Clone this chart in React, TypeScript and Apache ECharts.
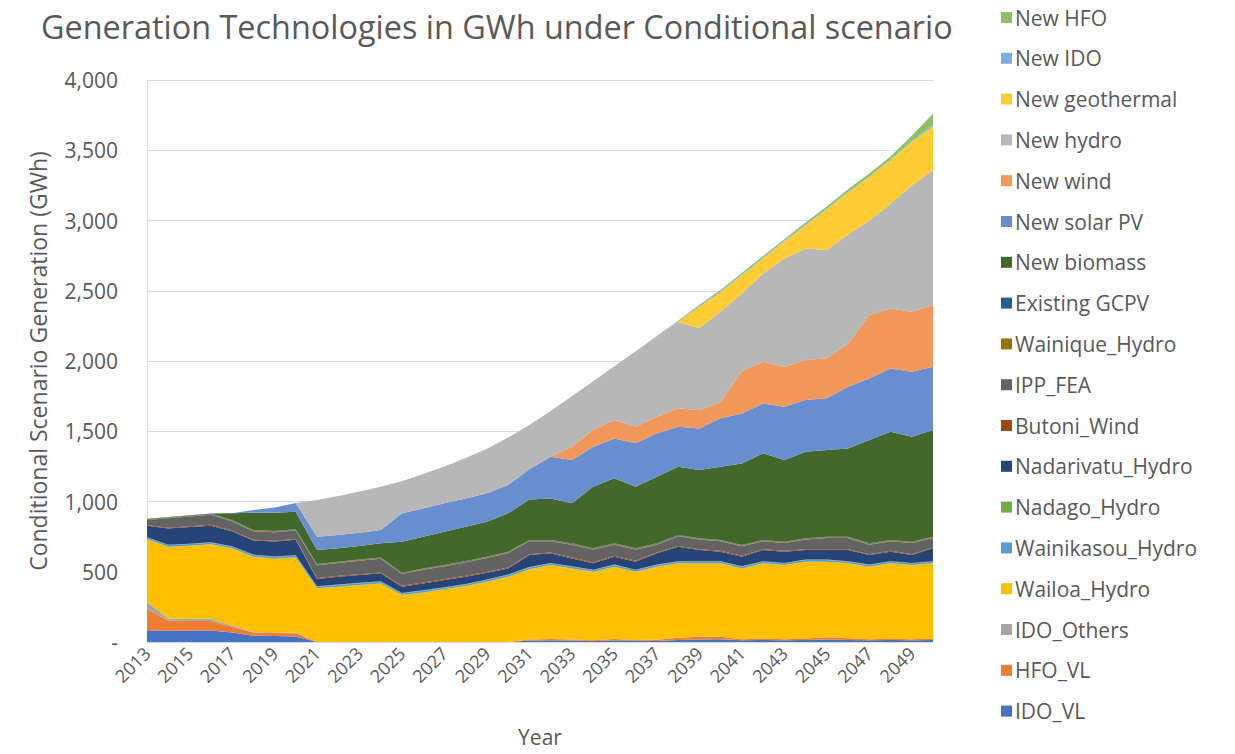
import React, { useEffect, useRef } from "react";
import * as echarts from "echarts";

const years = ["2013","2014","2015","2016","2017","2018","2019","2020","2021","2022","2023","2024","2025","2026","2027","2028","2029","2030","2031","2032","2033","2034","2035","2036","2037","2038","2039","2040","2041","2042","2043","2044","2045","2046","2047","2048","2049","2050"];

const idoVL = [83, 80, 80, 82, 68, 45, 42, 40, 0, 0, 0, 0, 0, 0, 0, 0, 0, 0, 10, 12, 10, 8, 12, 10, 8, 15, 18, 20, 12, 15, 12, 15, 18, 15, 12, 14, 12, 15];
const hfoVL = [155, 72, 70, 68, 40, 22, 22, 22, 0, 0, 0, 0, 0, 0, 0, 0, 0, 0, 8, 10, 8, 5, 10, 5, 8, 15, 20, 18, 8, 10, 8, 10, 15, 12, 8, 10, 8, 10];
const idoOthers = [47, 16, 15, 15, 10, 5, 5, 5, 0, 0, 0, 0, 0, 0, 0, 0, 0, 0, 0, 0, 0, 0, 0, 0, 0, 0, 0, 0, 0, 0, 0, 0, 0, 0, 0, 0, 0, 0];
const wailoa = [446, 510, 520, 530, 549, 535, 524, 535, 382, 394, 406, 417, 334, 353, 375, 398, 429, 465, 500, 526, 506, 487, 514, 485, 520, 530, 522, 522, 504, 535, 528, 547, 539, 533, 516, 536, 528, 535];
const wainikasou = [12, 12, 12, 12, 12, 12, 12, 12, 12, 12, 12, 12, 12, 12, 12, 12, 12, 12, 12, 12, 12, 12, 12, 12, 12, 12, 12, 12, 12, 12, 12, 12, 12, 12, 12, 12, 12, 12];
const nadago = [3, 3, 3, 3, 3, 3, 3, 3, 3, 3, 3, 3, 3, 3, 3, 3, 3, 3, 3, 3, 3, 3, 3, 3, 3, 3, 3, 3, 3, 3, 3, 3, 3, 3, 3, 3, 3, 3];
const nadarivatu = [81, 115, 118, 118, 106, 100, 107, 110, 51, 56, 56, 57, 45, 49, 51, 52, 49, 44, 86, 68, 56, 45, 56, 57, 80, 103, 80, 68, 68, 80, 80, 68, 68, 80, 68, 68, 56, 92];
const butoni = [6, 6, 6, 6, 6, 6, 6, 6, 6, 6, 6, 6, 6, 6, 6, 6, 6, 6, 6, 6, 6, 6, 6, 6, 6, 6, 6, 6, 6, 6, 6, 6, 6, 6, 6, 6, 6, 6];
const ippFEA = [35, 67, 69, 71, 65, 60, 60, 60, 92, 92, 96, 98, 84, 92, 92, 96, 99, 104, 92, 80, 92, 92, 80, 80, 56, 68, 68, 68, 68, 56, 56, 68, 80, 80, 68, 68, 80, 68];
const wainique = [5, 5, 5, 5, 5, 5, 5, 5, 5, 5, 5, 5, 5, 5, 5, 5, 5, 5, 5, 5, 5, 5, 5, 5, 5, 5, 5, 5, 5, 5, 5, 5, 5, 5, 5, 5, 5, 5];
const gcpv = [4, 4, 4, 4, 4, 4, 4, 4, 4, 4, 4, 4, 4, 4, 4, 4, 4, 4, 4, 4, 4, 4, 4, 4, 4, 4, 4, 4, 4, 4, 4, 4, 4, 4, 4, 4, 4, 4];
const newBiomass = [0, 0, 0, 0, 48, 123, 130, 125, 100, 95, 95, 100, 221, 226, 237, 245, 249, 273, 289, 296, 285, 438, 463, 438, 474, 487, 486, 522, 581, 617, 581, 616, 616, 628, 735, 771, 747, 759];
const newSolar = [0, 0, 0, 0, 0, 19, 38, 63, 95, 94, 95, 95, 202, 201, 202, 201, 202, 201, 215, 297, 308, 285, 284, 309, 309, 284, 296, 344, 356, 355, 380, 368, 368, 439, 439, 450, 463, 450];
const newWind = [0, 0, 0, 0, 0, 0, 0, 0, 0, 0, 0, 0, 0, 0, 0, 0, 0, 0, 0, 0, 95, 119, 131, 118, 118, 131, 130, 115, 300, 297, 284, 285, 285, 308, 451, 427, 427, 439];
const newHydro = [0, 0, 0, 0, 0, 0, 0, 0, 260, 279, 294, 308, 229, 244, 263, 288, 317, 338, 315, 326, 360, 346, 382, 538, 570, 615, 585, 646, 554, 628, 771, 794, 771, 775, 673, 746, 899, 962];
const newGeo = [0, 0, 0, 0, 0, 0, 0, 0, 0, 0, 0, 0, 0, 0, 0, 0, 0, 0, 0, 0, 0, 0, 0, 0, 0, 0, 152, 137, 129, 107, 120, 164, 290, 300, 310, 310, 310, 310];
const newIDO = [0, 0, 0, 0, 0, 0, 0, 0, 0, 0, 0, 0, 0, 0, 0, 0, 0, 0, 0, 0, 0, 0, 0, 0, 2, 3, 5, 5, 5, 5, 5, 5, 5, 5, 5, 5, 8, 12];
const newHFO = [0, 0, 0, 0, 0, 0, 0, 0, 0, 0, 0, 0, 0, 0, 0, 0, 0, 0, 0, 0, 0, 0, 0, 0, 3, 5, 8, 10, 12, 12, 12, 15, 15, 18, 20, 20, 35, 78];

const seriesDefs: [string, number[], string][] = [
  ["IDO_VL", idoVL, "#4472C4"],
  ["HFO_VL", hfoVL, "#ED7D31"],
  ["IDO_Others", idoOthers, "#A5A5A5"],
  ["Wailoa_Hydro", wailoa, "#FFC000"],
  ["Wainikasou_Hydro", wainikasou, "#5B9BD5"],
  ["Nadago_Hydro", nadago, "#70AD47"],
  ["Nadarivatu_Hydro", nadarivatu, "#264478"],
  ["Butoni_Wind", butoni, "#9E480E"],
  ["IPP_FEA", ippFEA, "#636363"],
  ["Wainique_Hydro", wainique, "#997300"],
  ["Existing GCPV", gcpv, "#255E91"],
  ["New biomass", newBiomass, "#43682B"],
  ["New solar PV", newSolar, "#698ED0"],
  ["New wind", newWind, "#F1975A"],
  ["New hydro", newHydro, "#B7B7B7"],
  ["New geothermal", newGeo, "#FFCD33"],
  ["New IDO", newIDO, "#7CAFDD"],
  ["New HFO", newHFO, "#8CC168"],
];

const FONT = "'Open Sans', sans-serif";
const TXT = "#595959";

export default function App() {
  const ref = useRef<HTMLDivElement>(null);
  useEffect(() => {
    if (!ref.current) return;
    const chart = echarts.init(ref.current, undefined, { renderer: "svg" });
    chart.setOption({
      animation: false,
      backgroundColor: "#ffffff",
      title: {
        text: "Generation Technologies in GWh under Conditional scenario",
        left: 36,
        top: 5,
        textStyle: { fontFamily: FONT, fontSize: 32.4, fontWeight: "normal", color: TXT },
      },
      grid: { left: 147, right: 302, top: 80, bottom: 112, containLabel: false },
      legend: {
        orient: "vertical",
        left: 996,
        top: 2,
        itemWidth: 11,
        itemHeight: 11,
        itemGap: 19.8,
        icon: "rect",
        data: seriesDefs.map((s) => s[0]).reverse(),
        textStyle: { fontFamily: FONT, fontSize: 21, color: TXT, lineHeight: 20, padding: [0, 0, 0, -2] },
      },
      xAxis: {
        type: "category",
        boundaryGap: false,
        data: years,
        name: "Year",
        nameLocation: "middle",
        nameGap: 84,
        nameTextStyle: { fontFamily: FONT, fontSize: 21, color: TXT },
        axisLine: { lineStyle: { color: "#D9D9D9" } },
        axisTick: { show: false },
        axisLabel: { interval: 1, rotate: 45, fontSize: 18, color: TXT, fontFamily: FONT, margin: 8 },
      },
      yAxis: {
        type: "value",
        min: 0,
        max: 4000,
        interval: 500,
        name: "Conditional Scenario Generation (GWh)",
        nameLocation: "middle",
        nameGap: 98,
        nameTextStyle: { fontFamily: FONT, fontSize: 23, color: TXT },
        axisLine: { show: true, lineStyle: { color: "#D9D9D9" } },
        axisTick: { show: false },
        splitLine: { lineStyle: { color: "#D9D9D9" } },
        axisLabel: {
          fontSize: 21,
          color: TXT,
          fontFamily: FONT,
          margin: 29,
          formatter: (v: number) => (v === 0 ? "-" : v.toLocaleString("en-US")),
        },
      },
      series: seriesDefs.map(([name, data, color]) => ({
        name,
        type: "line",
        stack: "total",
        data,
        symbol: "none",
        showSymbol: false,
        lineStyle: { width: 0, color },
        itemStyle: { color },
        areaStyle: { color, opacity: 1 },
      })),
    });
    return () => chart.dispose();
  }, []);
  return <div ref={ref} style={{ position: "absolute", left: 0, top: 0, width: 1235, height: 754 }} />;
}
